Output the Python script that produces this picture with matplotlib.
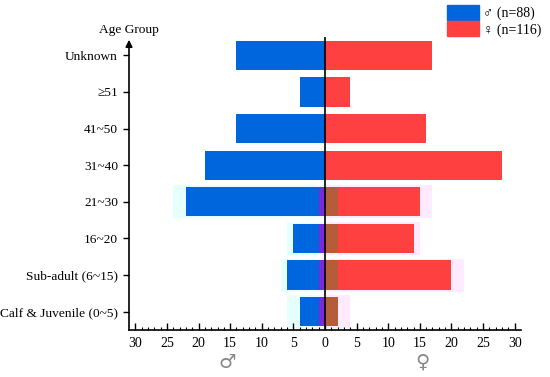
import matplotlib
matplotlib.use("Agg")
import matplotlib.pyplot as plt
import numpy as np
from matplotlib.patches import Patch

categories = ["Calf & Juvenile (0~5)", "Sub-adult (6~15)", "16~20", "21~30",
              "31~40", "41~50", "≥51", "Unknown"]
male = [4, 6, 5, 22, 19, 14, 4, 14]
female = [2, 20, 14, 15, 28, 16, 4, 17]
xticks = [-30, -25, -20, -15, -10, -5, 0, 5, 10, 15, 20, 25, 30]
xtick_labels = ["30", "25", "20", "15", "10", "5", "0", "5", "10", "15", "20", "25", "30"]

# faint overlay layer seen on lower bars
overlay_idx = [0, 1, 2, 3]
male_glow = [6, 7, 6, 24]
female_glow = [4, 22, 15, 17]
female_base_strip = [2, 2, 2, 2]
male_base_strip = [1, 1, 1, 1]

plt.rcParams['font.family'] = ['Liberation Serif', 'DejaVu Sans']
fig = plt.figure(figsize=(5.5, 3.77), dpi=100)
ax = fig.add_axes([129/550, 1-330/377, (521-129)/550, (330-37)/377])

y = np.arange(len(categories))
blue = "#0066DD"
red = "#FF4040"

for i, mg, fg in zip(overlay_idx, male_glow, female_glow):
    ax.barh(i, -mg, height=0.9, color="#E6FFFF", zorder=0.5)
    ax.barh(i, fg, height=0.9, color="#FFEAFF", zorder=0.5)

ax.barh(y, [-m for m in male], height=0.8, color=blue, zorder=2)
ax.barh(y, female, height=0.8, color=red, zorder=2)

for i, fs, ms in zip(overlay_idx, female_base_strip, male_base_strip):
    ax.barh(i, fs, height=0.8, color="#A8623A", alpha=0.85, zorder=3)
    ax.barh(i, -ms, height=0.8, color="#8A22DD", alpha=0.85, zorder=3)

ax.axvline(0, color="black", lw=1.2, zorder=4)

ax.set_xlim(-31, 31)
ax.set_ylim(-0.5, 7.5)
ax.set_yticks(y)
ax.set_yticklabels(categories, fontsize=9.6)
ax.set_xticks(xticks)
ax.set_xticklabels(xtick_labels, fontsize=10)
ax.set_xticks(np.arange(-30, 31, 1), minor=True)
ax.tick_params(axis='x', direction='in', length=5, width=1, pad=5)
ax.tick_params(axis='x', which='minor', direction='in', length=2.5, width=0.8)
ax.tick_params(axis='y', direction='out', length=4, width=1, pad=4)

for s in ['top', 'right']:
    ax.spines[s].set_visible(False)
ax.spines['left'].set_linewidth(1.2)
ax.spines['bottom'].set_linewidth(1.2)
ax.spines['left'].set_bounds(-0.5, 7.3)
ax.annotate("", xy=(0, 1.0), xytext=(0, 0.96), xycoords='axes fraction',
            arrowprops=dict(arrowstyle='-|>', color='black', lw=1.2, mutation_scale=10))
ax.text(0, 1.005, "Age Group", transform=ax.transAxes, ha='center', va='bottom', fontsize=9.6)

fig.text(227/550, 1-362/377, "♂", ha='center', va='center', fontsize=14, color="#888888",
         family=['DejaVu Sans'])
fig.text(422/550, 1-362/377, "♀", ha='center', va='center', fontsize=14, color="#888888",
         family=['DejaVu Sans'])

handles = [Patch(color=blue, label="♂ (n=88)"), Patch(color=red, label="♀ (n=116)")]
fig.legend(handles=handles, loc='upper right', bbox_to_anchor=(1.0, 1.01), frameon=False,
           fontsize=10, handlelength=2.3, handleheight=1.3, handletextpad=0.3,
           labelspacing=0.1, borderaxespad=0.2)

fig.savefig("out.png", dpi=100)
